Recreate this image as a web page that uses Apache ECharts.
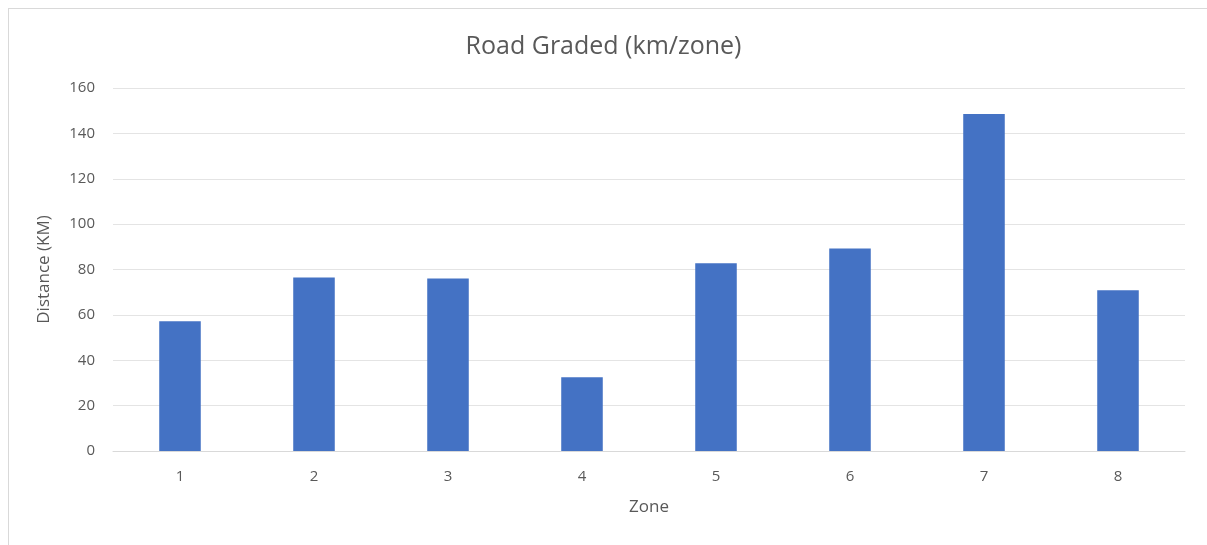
<!DOCTYPE html>
<html>
<head>
<meta charset="utf-8">
<script src="https://cdn.jsdelivr.net/npm/echarts@6/dist/echarts.min.js"></script>
<style>
  html, body { margin: 0; padding: 0; background: #fff; }
  #main { width: 1207px; height: 545px; }
  .frame { position: absolute; left: 8px; top: 8px; width: 1200px; height: 540px; border: 1px solid #d9d9d9; box-sizing: border-box; pointer-events: none; }
</style>
</head>
<body>
<div id="main"></div>
<div class="frame"></div>
<script>
var zones = ['1', '2', '3', '4', '5', '6', '7', '8'];
var distance = [57.2, 76.5, 76, 32.5, 82.7, 89.3, 148.5, 70.8];

var chart = echarts.init(document.getElementById('main'));
var textColor = '#595959';
var fontFam = '"Open Sans", "Noto Sans", sans-serif';

chart.setOption({
    animation: false,
    title: {
        text: 'Road Graded (km/zone)',
        left: 'center',
        top: 29,
        textStyle: { fontFamily: fontFam, fontSize: 25, fontWeight: 'normal', color: textColor }
    },
    grid: { left: 113, right: 22, top: 88, bottom: 94 },
    xAxis: {
        type: 'category',
        data: zones,
        name: 'Zone',
        nameLocation: 'middle',
        nameGap: 48,
        nameTextStyle: { fontFamily: fontFam, fontSize: 17, color: textColor },
        axisLine: { lineStyle: { color: '#d9d9d9', width: 1 } },
        axisTick: { show: false },
        axisLabel: { fontFamily: fontFam, fontSize: 15, color: textColor, margin: 18 }
    },
    yAxis: {
        type: 'value',
        min: 0,
        max: 160,
        interval: 20,
        name: 'Distance (KM)',
        nameLocation: 'middle',
        nameGap: 60,
        nameTextStyle: { fontFamily: fontFam, fontSize: 17, color: textColor },
        axisLine: { show: false },
        axisTick: { show: false },
        axisLabel: { fontFamily: fontFam, fontSize: 15, color: textColor, margin: 18 },
        splitLine: { lineStyle: { color: '#e4e4e4', width: 1 } }
    },
    series: [{
        type: 'bar',
        data: distance,
        barWidth: '31%',
        itemStyle: { color: '#4472c4' }
    }]
});
</script>
</body>
</html>
